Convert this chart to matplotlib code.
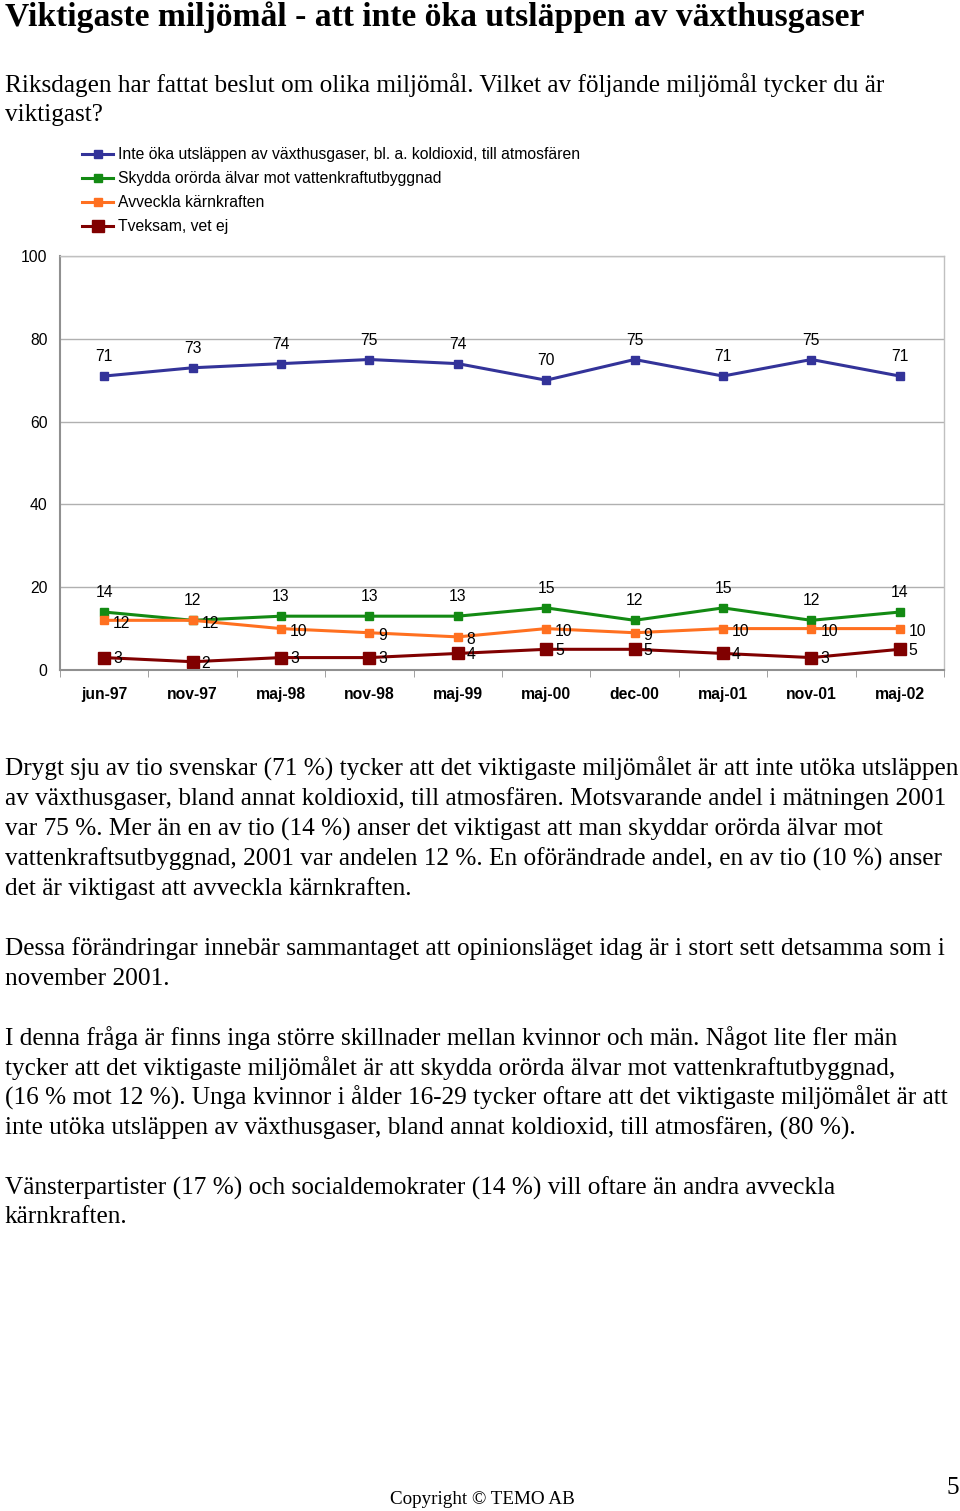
import matplotlib.pyplot as plt
import numpy as np

# survey rounds and shares (%)
rounds = ['jun-97', 'nov-97', 'maj-98', 'nov-98', 'maj-99',
          'maj-00', 'dec-00', 'maj-01', 'nov-01', 'maj-02']
vaxthus = [71, 73, 74, 75, 74, 70, 75, 71, 75, 71]
alvar = [14, 12, 13, 13, 13, 15, 12, 15, 12, 14]
karnkraft = [12, 12, 10, 9, 8, 10, 9, 10, 10, 10]
tveksam = [3, 2, 3, 3, 4, 5, 5, 4, 3, 5]

labels = ['Inte öka utsläppen av växthusgaser, bl. a. koldioxid, till atmosfären',
          'Skydda orörda älvar mot vattenkraftutbyggnad',
          'Avveckla kärnkraften',
          'Tveksam, vet ej']
colors = ['#333399', '#138a13', '#ff7020', '#800000']

serif = 'Liberation Serif'
sans = 'Liberation Sans'
body_fs = 18.2
lab_fs = 11.3

fig = plt.figure(figsize=(9.6, 15.11), dpi=100)

# header
fig.text(0.005, 1 - 26 / 1511, 'Viktigaste miljömål - att inte öka utsläppen av växthusgaser',
         family=serif, weight='bold', fontsize=24.2, va='baseline')
fig.text(0.005, 1 - 85 / 1511, 'Riksdagen har fattat beslut om olika miljömål. Vilket av följande miljömål tycker du är',
         family=serif, fontsize=body_fs, va='center')
fig.text(0.005, 1 - 115 / 1511, 'viktigast?', family=serif, fontsize=body_fs, va='center')

ax = fig.add_axes([60 / 960, 1 - 670 / 1511, 884 / 960, 414 / 1511])
x = np.arange(len(rounds))

series = [vaxthus, alvar, karnkraft, tveksam]
msizes = [6, 6, 6, 8.5]
handles = []
for vals, c, ms, lab in zip(series, colors, msizes, labels):
    h, = ax.plot(x, vals, color=c, lw=2.2, marker='s', ms=ms, label=lab)
    handles.append(h)

# data labels
for xi, v in zip(x, vaxthus):
    ax.annotate(str(v), (xi, v), xytext=(0, 14), textcoords='offset points',
                ha='center', va='center', family=sans, fontsize=lab_fs)
for xi, v in zip(x, alvar):
    ax.annotate(str(v), (xi, v), xytext=(0, 14), textcoords='offset points',
                ha='center', va='center', family=sans, fontsize=lab_fs)
for xi, v in zip(x, karnkraft):
    ax.annotate(str(v), (xi, v), xytext=(6.5, -2), textcoords='offset points',
                ha='left', va='center', family=sans, fontsize=lab_fs)
for xi, v in zip(x, tveksam):
    ax.annotate(str(v), (xi, v), xytext=(6.5, -1), textcoords='offset points',
                ha='left', va='center', family=sans, fontsize=lab_fs)

ax.set_xlim(-0.5, len(rounds) - 0.5)
ax.set_ylim(0, 100)
ax.set_yticks([0, 20, 40, 60, 80, 100])
ax.yaxis.grid(True, color='#b0b0b0', lw=1)
ax.set_axisbelow(True)
ax.tick_params(axis='y', length=0, pad=9, labelsize=lab_fs)
for t in ax.get_yticklabels():
    t.set_family(sans)

ax.set_xticks(x)
ax.set_xticklabels(rounds, family=sans, weight='bold', fontsize=lab_fs)
ax.tick_params(axis='x', length=0, pad=12.5)
ax.set_xticks(np.arange(len(rounds) + 1) - 0.5, minor=True)
ax.tick_params(axis='x', which='minor', length=5, color='#909090', direction='out')

for s in ['left', 'bottom']:
    ax.spines[s].set_color('#909090')
    ax.spines[s].set_linewidth(1.5)
for s in ['top', 'right']:
    ax.spines[s].set_color('#c0c0c0')
    ax.spines[s].set_linewidth(1)

fig.legend(handles=handles, loc='upper left', bbox_to_anchor=(82 / 960, 1 - 147 / 1511),
           frameon=False, prop={'family': sans, 'size': lab_fs}, handlelength=2.0,
           handletextpad=0.3, labelspacing=0.58, borderpad=0, borderaxespad=0)

# body text
body = [
    (769, 'Drygt sju av tio svenskar (71 %) tycker att det viktigaste miljömålet är att inte utöka utsläppen'),
    (799, 'av växthusgaser, bland annat koldioxid, till atmosfären. Motsvarande andel i mätningen 2001'),
    (829, 'var 75 %. Mer än en av tio (14 %) anser det viktigast att man skyddar orörda älvar mot'),
    (859, 'vattenkraftsutbyggnad, 2001 var andelen 12 %. En oförändrade andel, en av tio (10 %) anser'),
    (889, 'det är viktigast att avveckla kärnkraften.'),
    (949, 'Dessa förändringar innebär sammantaget att opinionsläget idag är i stort sett detsamma som i'),
    (979, 'november 2001.'),
    (1038, 'I denna fråga är finns inga större skillnader mellan kvinnor och män. Något lite fler män'),
    (1068, 'tycker att det viktigaste miljömålet är att skydda orörda älvar mot vattenkraftutbyggnad,'),
    (1098, '(16 % mot 12 %). Unga kvinnor i ålder 16-29 tycker oftare att det viktigaste miljömålet är att'),
    (1128, 'inte utöka utsläppen av växthusgaser, bland annat koldioxid, till atmosfären, (80 %).'),
    (1188, 'Vänsterpartister (17 %) och socialdemokrater (14 %) vill oftare än andra avveckla'),
    (1217, 'kärnkraften.'),
]
for ypx, line in body:
    fig.text(0.005, 1 - ypx / 1511, line, family=serif, fontsize=body_fs, va='center')

fig.text(390 / 960, 1 - 1499 / 1511, 'Copyright © TEMO AB', family=serif, fontsize=13.7, va='center')
fig.text(959 / 960, 1 - 1488 / 1511, '5', family=serif, fontsize=body_fs, va='center', ha='right')

fig.savefig('out.png', dpi=100)
